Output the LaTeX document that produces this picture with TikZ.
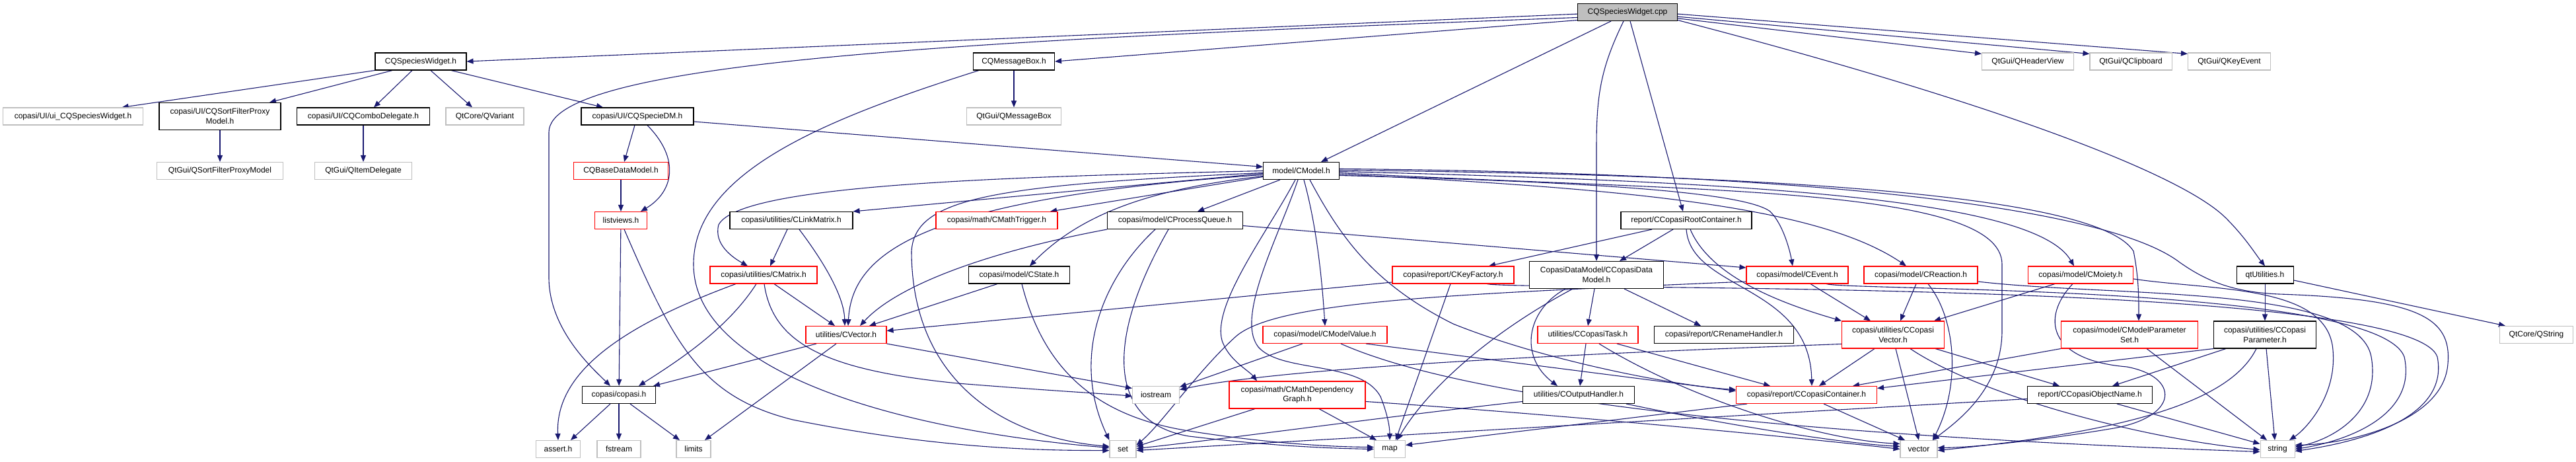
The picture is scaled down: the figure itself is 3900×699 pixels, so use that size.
\documentclass[tikz,border=0pt]{standalone}
\usepackage{fontspec}
\setmainfont{Liberation Sans}
\usetikzlibrary{arrows.meta}
\definecolor{eb}{HTML}{191970}
\definecolor{gb}{HTML}{BFBFBF}
\definecolor{rb}{HTML}{FF0000}
\pgfdeclarelayer{bg}
\pgfdeclarelayer{paper}
\pgfsetlayers{paper,bg,main}
\tikzset{
  box/.style={draw, rectangle, inner sep=0pt, minimum height=13pt, fill=white,
    font=\fontsize{6}{7.3}\selectfont, align=center},
  bk/.style={box, draw=black, line width=0.55pt},
  gy/.style={box, draw=gb, line width=0.55pt},
  rd/.style={box, draw=rb, line width=0.55pt},
  root/.style={bk, fill=gb},
  two/.style={minimum height=20.5pt},
  bw/.style={minimum width=#1*0.5pt},
  e/.style={draw=eb, line width=0.55pt, -{Triangle[length=5pt,width=4pt]}},
}
\begin{document}
\begin{tikzpicture}[x=0.5pt,y=-0.5pt]
\begin{pgfonlayer}{paper}
\fill[white] (0,0) rectangle (3900,699);
\end{pgfonlayer}
\useasboundingbox (0,0) rectangle (3900,699);
% nodes
\node[root, bw=151] (cpp) at (2464,18.5) {CQSpeciesWidget.cpp};
\node[bk, bw=138] (w) at (637,93) {CQSpeciesWidget.h};
\node[bk, bw=123] (msg) at (1535,93) {CQMessageBox.h};
\node[gy, bw=139] (hv) at (3070,93) {QtGui/QHeaderView};
\node[gy, bw=124] (clip) at (3226,93) {QtGui/QClipboard};
\node[gy, bw=125] (key) at (3375,93) {QtGui/QKeyEvent};
\node[gy, bw=212] (ui) at (110.5,176) {copasi/UI/ui\_CQSpeciesWidget.h};
\node[bk, bw=184, two] (sfp) at (333,176) {copasi/UI/CQSortFilterProxy\\Model.h};
\node[bk, bw=201] (cd) at (550,176) {copasi/UI/CQComboDelegate.h};
\node[gy, bw=118] (qv) at (734,176) {QtCore/QVariant};
\node[bk, bw=170] (dm) at (965,176) {copasi/UI/CQSpecieDM.h};
\node[gy, bw=143] (qmb) at (1535,176) {QtGui/QMessageBox};
\node[gy, bw=191] (qsfp) at (333,258.5) {QtGui/QSortFilterProxyModel};
\node[gy, bw=147] (qid) at (550,258.5) {QtGui/QItemDelegate};
\node[rd, bw=143] (bdm) at (940,258.5) {CQBaseDataModel.h};
\node[bk, bw=115] (cm) at (1970,258.5) {model/CModel.h};
\node[rd, bw=79] (lv) at (940,333.5) {listviews.h};
\node[bk, bw=186] (lm) at (1198,333.5) {copasi/utilities/CLinkMatrix.h};
\node[rd, bw=184] (mt) at (1509,333.5) {copasi/math/CMathTrigger.h};
\node[bk, bw=205] (pq) at (1779,333.5) {copasi/model/CProcessQueue.h};
\node[bk, bw=198] (rc) at (2553,333.5) {report/CCopasiRootContainer.h};
\node[rd, bw=162] (mx) at (1156,416) {copasi/utilities/CMatrix.h};
\node[bk, bw=153] (cs) at (1543,416) {copasi/model/CState.h};
\node[rd, bw=184] (kf) at (2200,416) {copasi/report/CKeyFactory.h};
\node[bk, bw=203, two] (dmod) at (2417,416) {CopasiDataModel/CCopasiData\\Model.h};
\node[rd, bw=154] (ev) at (2721,416) {copasi/model/CEvent.h};
\node[rd, bw=172] (re) at (2908,416) {copasi/model/CReaction.h};
\node[rd, bw=159] (mo) at (3150,416) {copasi/model/CMoiety.h};
\node[bk, bw=86] (qu) at (3429,416) {qtUtilities.h};
\node[rd, bw=122] (vec) at (1281,506.5) {utilities/CVector.h};
\node[rd, bw=188] (mv) at (2006,506.5) {copasi/model/CModelValue.h};
\node[rd, bw=152] (task) at (2404,506.5) {utilities/CCopasiTask.h};
\node[bk, bw=211] (rh) at (2610,506.5) {copasi/report/CRenameHandler.h};
\node[rd, bw=155, two] (cv) at (2866,506.5) {copasi/utilities/CCopasi\\Vector.h};
\node[rd, bw=207, two] (ps) at (3224,506.5) {copasi/model/CModelParameter\\Set.h};
\node[bk, bw=155, two] (cp) at (3429,506.5) {copasi/utilities/CCopasi\\Parameter.h};
\node[gy, bw=111] (qs) at (3840,506.5) {QtCore/QString};
\node[bk, bw=111] (cop) at (937,597.5) {copasi/copasi.h};
\node[gy, bw=71] (io) at (1750,597.5) {iostream};
\node[rd, bw=206, two] (mdg) at (1964,597.5) {copasi/math/CMathDependency\\Graph.h};
\node[bk, bw=169] (oh) at (2390,597.5) {utilities/COutputHandler.h};
\node[rd, bw=213] (cc) at (2735,597.5) {copasi/report/CCopasiContainer.h};
\node[bk, bw=189] (on) at (3164,597.5) {report/CCopasiObjectName.h};
\node[gy, bw=67] (as) at (845,679.5) {assert.h};
\node[gy, bw=66] (fs) at (937,679.5) {fstream};
\node[gy, bw=52] (li) at (1050,679.5) {limits};
\node[gy, bw=40] (set) at (1700,679.5) {set};
\node[gy, bw=47] (map) at (2104,679.5) {map};
\node[gy, bw=56] (vct) at (2905,679.5) {vector};
\node[gy, bw=52] (str) at (3448,679.5) {string};

\begin{pgfonlayer}{bg}
% CQSpeciesWidget.cpp
\draw[e] (cpp.182) -- (w.east);
\draw[e] (cpp.186) .. controls (1500,60) and (831,90) .. (831,200) -- (831,420) .. controls (831,500) and (900,560) .. ([xshift=-6.5pt]cop.north);
\draw[e] (cpp.189) -- (msg.east);
\draw[e] ([xshift=-12.5pt]cpp.south) -- ([xshift=15pt]cm.north);
\draw[e] ([xshift=-3pt]cpp.south) .. controls (2425,100) and (2417,140) .. (2417,220) -- (dmod.north);
\draw[e] ([xshift=2pt]cpp.south) -- ([xshift=-2.5pt]rc.north);
\draw[e] (cpp.-2) -- ([yshift=-1pt]key.north west);
\draw[e] (cpp.-5) -- ([yshift=-1pt]clip.north west);
\draw[e] (cpp.-7) -- ([yshift=-1pt]hv.north west);
\draw[e] (cpp.-9) .. controls (3000,150) and (3300,260) .. (3370,330) .. controls (3400,360) and (3415,385) .. (qu.north);
% CQSpeciesWidget.h
\draw[e] (w.south west) -- ([xshift=37pt]ui.north);
\draw[e] ([xshift=-21.5pt]w.south) -- ([xshift=37.5pt]sfp.north);
\draw[e] ([xshift=-6.5pt]w.south) -- ([xshift=8pt]cd.north);
\draw[e] ([xshift=7.5pt]w.south) -- ([xshift=-9.5pt]qv.north);
\draw[e] ([xshift=23pt]w.south) -- ([xshift=-26pt]dm.north);
\draw[e] (sfp) -- (qsfp);
\draw[e] (cd) -- (qid);
\draw[e] (msg) -- (qmb);
\draw[e] ([xshift=-26.5pt]msg.south) .. controls (1250,180) and (1050,260) .. (1050,400) .. controls (1050,560) and (1350,650) .. ([yshift=1pt]set.west);
% CQSpecieDM
\draw[e] ([xshift=-2pt]dm.south) -- ([xshift=2.5pt]bdm.north);
\draw[e] ([xshift=7.5pt]dm.south) .. controls (1030,240) and (1020,290) .. ([xshift=15pt]lv.north);
\draw[e] (bdm) -- (lv);
\draw[e] ([yshift=-4pt]dm.east) -- ([yshift=3pt]cm.west);
% listviews
\draw[e] (lv) -- (cop);
\draw[e] ([xshift=2.5pt]lv.south) .. controls (1020,520) and (1060,600) .. (1200,635) .. controls (1400,675) and (1550,682) .. ([yshift=-1pt]set.west);
% CModel left
\draw[e] (cm.west) .. controls (1500,268) and (1120,280) .. (1088,340) .. controls (1080,370) and (1110,390) .. ([xshift=-12pt]mx.north);
\draw[e] ([yshift=-2pt]cm.west) -- (lm.north east);
\draw[e] ([yshift=-3pt]cm.west) .. controls (1400,300) and (1290,380) .. ([xshift=1.5pt]vec.north);
\draw[e] ([yshift=-4.5pt]cm.west) -- ([xshift=40.5pt]mt.north);
\draw[e] ([xshift=-16pt]cm.south) -- ([xshift=17pt]pq.north);
\draw[e] ([yshift=-4pt]cm.west) .. controls (1750,285) and (1640,320) .. ([xshift=8pt]cs.north);
\draw[e] ([yshift=-1.5pt]cm.west) .. controls (1500,280) and (1385,300) .. (1380,380) .. controls (1380,560) and (1500,660) .. ([yshift=2pt]set.west);
\draw[e] ([xshift=-4.5pt]cm.south) .. controls (1920,350) and (1835,460) .. (1850,515) .. controls (1860,545) and (1890,560) .. ([xshift=-30.5pt]mdg.north);
\draw[e] ([xshift=-2.5pt]cm.south) .. controls (1935,360) and (1870,480) .. (1905,525) .. controls (1940,565) and (2060,545) .. (2090,600) .. controls (2100,625) and (2104,645) .. (map.north);
\draw[e] ([xshift=2pt]cm.south) .. controls (1990,330) and (2000,400) .. (mv.north);
\draw[e] ([xshift=6.5pt]cm.south) .. controls (2030,360) and (2080,430) .. (2200,490) .. controls (2350,550) and (2550,585) .. ([yshift=4pt]cc.west);
% CModel right
\draw[e] ([yshift=-3.5pt]cm.east) .. controls (2400,275) and (2640,290) .. (2680,320) .. controls (2700,340) and (2710,380) .. ([xshift=-3.5pt]ev.north);
\draw[e] ([yshift=-2.5pt]cm.east) .. controls (2450,285) and (2750,310) .. ([xshift=-11pt]re.north);
\draw[e] ([yshift=-1.5pt]cm.east) .. controls (2550,290) and (3031,280) .. (3031,400) -- (3031,500) .. controls (3031,590) and (2960,640) .. ([xshift=10.5pt]vct.north);
\draw[e] ([yshift=-0.5pt]cm.east) .. controls (2650,275) and (3080,300) .. ([xshift=-5pt]mo.north);
\draw[e] ([yshift=0.5pt]cm.east) .. controls (2750,265) and (3180,300) .. (3230,380) .. controls (3238,420) and (3238,450) .. ([xshift=7pt]ps.north);
\draw[e] ([yshift=1.5pt]cm.east) .. controls (2800,262) and (3200,320) .. (3300,397) .. controls (3340,425) and (3380,442) .. (3450,445) .. controls (3660,452) and (3712,480) .. (3706,550) .. controls (3700,640) and (3550,672) .. ([yshift=3pt]str.east);
% CProcessQueue
\draw[e] ([xshift=-51.5pt]pq.south) .. controls (1500,380) and (1360,430) .. ([xshift=10.5pt]vec.north);
\draw[e] ([xshift=-15pt]pq.south) .. controls (1670,420) and (1620,540) .. (set.north west);
\draw[e] ([xshift=-5pt]pq.south) .. controls (1670,520) and (1680,640) .. (1800,660) .. controls (1900,672) and (1990,678) .. (map.west);
\draw[e] ([yshift=-4pt]pq.east) -- ([yshift=5.5pt]ev.west);
% CState
\draw[e] ([xshift=-16.5pt]cs.south) -- ([xshift=17.5pt]vec.north);
\draw[e] ([xshift=2pt]cs.south) .. controls (1580,560) and (1660,630) .. (1800,652) .. controls (1900,668) and (2000,676) .. ([yshift=1.5pt]map.west);
% CLinkMatrix
\draw[e] ([xshift=-3pt]lm.south) -- ([xshift=5pt]mx.north);
\draw[e] ([xshift=6pt]lm.south) .. controls (1250,400) and (1278,450) .. ([xshift=-1pt]vec.north);
% CMatrix
\draw[e] ([xshift=-21pt]mx.south) .. controls (950,490) and (840,560) .. (as.north);
\draw[e] ([xshift=-5.5pt]mx.south) .. controls (1100,500) and (1020,550) .. ([xshift=15pt]cop.north);
\draw[e] ([xshift=0.5pt]mx.south) .. controls (1170,520) and (1250,560) .. (1450,580) .. controls (1600,592) and (1680,596) .. ([yshift=-1pt]io.west);
\draw[e] ([xshift=8pt]mx.south) -- ([xshift=-8.5pt]vec.north);
% CVector
\draw[e] ([xshift=-22.5pt]vec.south) -- ([xshift=26pt]cop.north);
\draw[e] ([xshift=-7.5pt]vec.south) -- ([xshift=8.5pt]li.north);
\draw[e] (vec.south east) -- ([yshift=5pt]io.west);
% copasi.h
\draw[e] ([xshift=-6.5pt]cop.south) -- ([xshift=9.5pt]as.north);
\draw[e] (cop) -- (fs);
\draw[e] ([xshift=8.5pt]cop.south) -- ([xshift=-10.5pt]li.north);
% CKeyFactory
\draw[e] ([yshift=-5.5pt]kf.west) -- ([yshift=3pt]vec.east);
\draw[e] ([xshift=-2pt]kf.south) -- ([xshift=4.5pt]map.north);
\draw[e] ([xshift=25.5pt]kf.south) .. controls (2300,440) and (3650,420) .. (3690,540) .. controls (3710,640) and (3550,672) .. ([yshift=-1.5pt]str.east);
% CCopasiDataModel
\draw[e] ([xshift=-23.5pt]dmod.south) .. controls (2310,470) and (2300,540) .. ([xshift=-16pt]oh.north);
\draw[e] ([xshift=-18pt]dmod.south) .. controls (2300,480) and (2180,560) .. ([xshift=5.5pt]map.north);
\draw[e] ([xshift=-1.5pt]dmod.south) -- (task.north);
\draw[e] ([xshift=21pt]dmod.south) -- ([xshift=-17.5pt]rh.north);
% CCopasiRootContainer
\draw[e] ([xshift=-26pt]rc.south) -- ([xshift=27pt]kf.north);
\draw[e] ([xshift=-10pt]rc.south) -- ([xshift=17.5pt]dmod.north);
\draw[e] (rc.south) .. controls (2560,440) and (2740,430) .. ([xshift=4pt]cc.north);
\draw[e] ([xshift=3pt]rc.south) .. controls (2590,420) and (2700,460) .. (cv.north west);
% CEvent
\draw[e] ([yshift=-5pt]ev.west) .. controls (2200,445) and (1930,455) .. (1870,510) .. controls (1810,565) and (1760,640) .. ([yshift=3pt]set.east);
\draw[e] ([xshift=10pt]ev.south) -- ([xshift=-17pt]cv.north);
\draw[e] ([xshift=22pt]ev.south) .. controls (2800,440) and (3600,430) .. (3640,540) .. controls (3660,630) and (3550,668) .. (str.east);
% CReaction
\draw[e] ([xshift=-3.5pt]re.south) -- ([xshift=5.5pt]cv.north);
\draw[e] ([xshift=5.5pt]re.south) .. controls (2960,480) and (2970,580) .. ([xshift=10.5pt]vct.north);
\draw[e] ([yshift=-5pt]re.east) .. controls (3200,450) and (3570,430) .. (3590,540) .. controls (3605,625) and (3530,665) .. ([yshift=1.5pt]str.east);
% CMoiety
\draw[e] ([xshift=-19.5pt]mo.south) -- ([xshift=31pt]cv.north);
\draw[e] ([xshift=-6pt]mo.south) .. controls (3090,480) and (3100,545) .. (3220,555) .. controls (3300,570) and (3300,630) .. (3200,648) .. controls (3100,665) and (2990,677) .. ([yshift=1pt]vct.east);
\draw[e] ([yshift=-3pt]mo.east) .. controls (3350,440) and (3525,430) .. (3532,530) .. controls (3538,600) and (3490,650) .. ([xshift=9pt]str.north);
% CCopasiVector
\draw[e] ([xshift=-14pt]cv.south) -- ([xshift=9.5pt]cc.north);
\draw[e] ([xshift=2pt]cv.south) -- (vct.north);
\draw[e] ([xshift=13pt]cv.south) .. controls (3000,600) and (3250,665) .. ([yshift=-0.5pt]str.west);
\draw[e] ([xshift=32pt]cv.south) -- ([xshift=-23pt]on.north);
\draw[e] ([yshift=-7pt]cv.west) .. controls (2400,535) and (1950,555) .. ([yshift=4pt]io.east);
% CModelParameterSet
\draw[e] (ps.south west) -- ([xshift=35pt]cc.north);
\draw[e] ([xshift=13pt]ps.south) -- ([xshift=-8pt]str.north);
% CCopasiParameter
\draw[e] (cp.south west) -- ([yshift=5pt]cc.east);
\draw[e] ([xshift=-29.5pt]cp.south) -- ([xshift=17pt]on.north);
\draw[e] ([xshift=-6.5pt]cp.south) .. controls (3380,600) and (3250,650) .. ([yshift=-1pt]vct.east);
\draw[e] ([xshift=1pt]cp.south) -- ([xshift=-2pt]str.north);
% qtUtilities
\draw[e] (qu) -- (cp);
\draw[e] ([yshift=-4pt]qu.east) -- ([xshift=-23.5pt]qs.north);
% CCopasiContainer
\draw[e] ([xshift=13pt]cc.south) -- ([xshift=-10.5pt]vct.north);
\draw[e] ([xshift=-45pt]cc.south) -- ([yshift=3pt]map.east);
% CCopasiObjectName
\draw[e] ([xshift=20.5pt]on.south) -- ([yshift=4pt]str.west);
\draw[e] ([yshift=-3pt]on.west) -- ([yshift=-1pt]set.east);
% COutputHandler
\draw[e] ([yshift=-5pt]oh.west) .. controls (2100,630) and (1850,665) .. ([yshift=0.5pt]set.east);
\draw[e] ([xshift=36pt]oh.south) .. controls (2600,640) and (2780,670) .. ([yshift=2pt]vct.west);
% CCopasiTask
\draw[e] ([xshift=-1.5pt]task.south) -- ([xshift=1pt]oh.north);
\draw[e] ([xshift=8.5pt]task.south) .. controls (2550,600) and (2750,665) .. ([yshift=4pt]vct.west);
\draw[e] ([xshift=22pt]task.south) -- ([xshift=-27.5pt]cc.north);
% CModelValue
\draw[e] ([xshift=-17pt]mv.south) -- ([yshift=6pt]io.east);
\draw[e] ([xshift=31pt]mv.south) -- ([yshift=3pt]cc.west);
\draw[e] ([xshift=12pt]mv.south) .. controls (2300,640) and (3100,672) .. ([yshift=-2pt]str.west);
% CMathDependencyGraph
\draw[e] ([xshift=-32pt]mdg.south) -- ([yshift=2pt]set.east);
\draw[e] ([xshift=16.5pt]mdg.south) -- ([xshift=-10pt]map.north);
\draw[e] ([yshift=-5pt]mdg.east) .. controls (2400,630) and (2750,665) .. (vct.west);
\end{pgfonlayer}
\end{tikzpicture}
\end{document}
